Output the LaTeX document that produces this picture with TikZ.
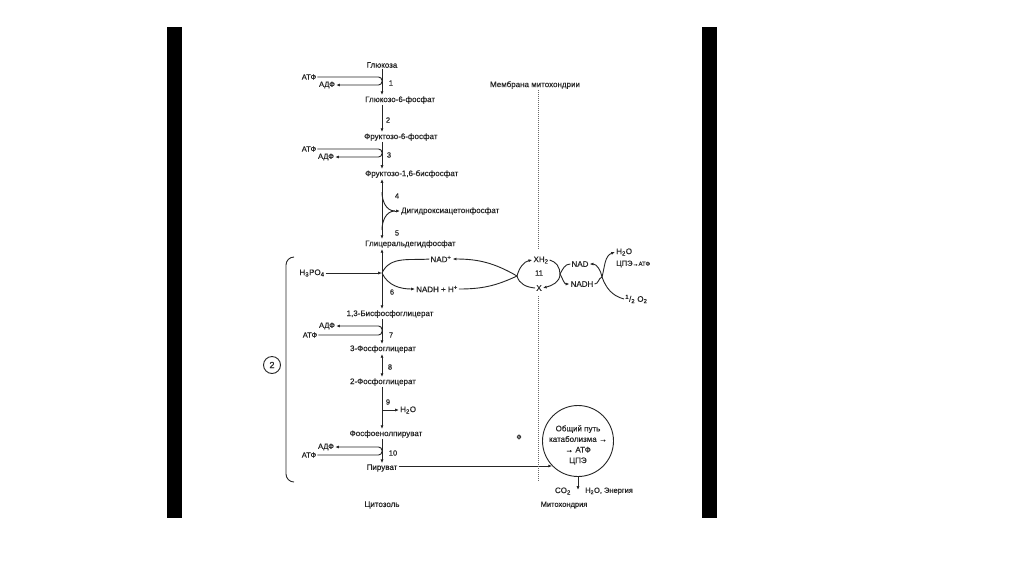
\documentclass[tikz,border=0pt]{standalone}
\usepackage{fontspec}
\setmainfont{Liberation Sans}[FakeBold=0.5]
\usetikzlibrary{arrows.meta}
\definecolor{ink}{HTML}{262626}
\begin{document}
\begin{tikzpicture}[x=1pt,y=-1pt,
 >={Latex[length=3.8pt,width=3pt]},
 lbl/.style={font=\fontsize{8}{9.5}\selectfont, inner sep=1pt, text=ink},
 sm/.style={font=\fontsize{7.5}{9}\selectfont, inner sep=1pt, text=ink},
 ln/.style={draw=ink, line width=0.9pt},
 dots/.style={draw=ink!70, line width=0.7pt, dash pattern=on 0.9pt off 1.1pt}]
\fill[white] (0,0) rectangle (1024,574);
\useasboundingbox (0,0) rectangle (1024,574);
\fill[black] (167,27) rectangle (182,518);
\fill[black] (702,27) rectangle (717,518);
\coordinate (col) at (382,0);
\coordinate (memx) at (538,0);
% main column
\node[lbl] (glc) at (382,65) {Глюкоза};
\node[lbl,anchor=west] (g6p) at (364,100) {Глюкозо-6-фосфат};
\node[lbl,anchor=west] (f6p) at (363,137) {Фруктозо-6-фосфат};
\node[lbl,anchor=west] (f16) at (364,174) {Фруктозо-1,6-бисфосфат};
\node[lbl,anchor=west] (gap) at (364,244) {Глицеральдегидфосфат};
\node[lbl] (bpg) at (390,314) {1,3-Бисфосфоглицерат};
\node[lbl] (pg3) at (383,349) {3-Фосфоглицерат};
\node[lbl] (pg2) at (383,382) {2-Фосфоглицерат};
\node[lbl] (pep) at (386,434) {Фосфоенолпируват};
\node[lbl] (pyr) at (382,468) {Пируват};
\node[lbl] (cyt) at (382,505) {Цитозоль};
\draw[->,ln] (glc.south -| col) -- (g6p.north -| col);
\draw[->,ln] (g6p.south -| col) -- (f6p.north -| col);
\draw[->,ln] (f6p.south -| col) -- (f16.north -| col);
\draw[<->,ln] (f16.south -| col) -- (gap.north -| col);
\draw[<->,ln] (gap.south -| col) -- (bpg.north -| col);
\draw[->,ln] (bpg.south -| col) -- (pg3.north -| col);
\draw[<->,ln] (pg3.south -| col) -- (pg2.north -| col);
\draw[->,ln] (pg2.south -| col) -- (pep.north -| col);
\draw[->,ln] (pep.south -| col) -- (pyr.north -| col);
% numbers
\node[sm] (n1) at (391,83) {1};
\node[sm] (n2) at (388,120) {2};
\node[sm] (n3) at (389,155) {3};
\node[sm] (n4) at (397,196) {4};
\node[sm] (n5) at (397,233) {5};
\node[sm] (n6) at (392,292) {6};
\node[sm] (n7) at (391,335) {7};
\node[sm] (n8) at (390,367) {8};
\node[sm] (n9) at (388,402) {9};
\node[sm] (n10) at (393,453) {10};
% ATP / ADP loops
\node[sm] (atp1) at (309,77) {АТФ};
\node[sm] (adp1) at (327,85) {АДФ};
\node[sm] (atp3) at (309,149) {АТФ};
\node[sm] (adp3) at (326,157) {АДФ};
\node[sm] (adp7) at (327,326) {АДФ};
\node[sm] (atp7) at (310,335) {АТФ};
\node[sm] (adp10) at (326,447) {АДФ};
\node[sm] (atp10) at (309,455) {АТФ};
\draw[->,ln,rounded corners=3.5pt] (atp1.east) -- (atp1.east -| col) |- (adp1.east);
\draw[->,ln,rounded corners=3.5pt] (atp3.east) -- (atp3.east -| col) |- (adp3.east);
\draw[->,ln,rounded corners=3.5pt] (atp7.east) -- (atp7.east -| col) |- (adp7.east);
\draw[->,ln,rounded corners=3.5pt] (atp10.east) -- (atp10.east -| col) |- (adp10.east);
% reaction 4
\coordinate (k4) at (395,211);
\coordinate (k4a) at (382,192);
\coordinate (k4b) at (382,230);
\node[lbl,anchor=west] (dhap) at (400,211) {Дигидроксиацетонфосфат};
\draw[ln] (k4a) to[out=-90,in=180] (k4);
\draw[ln] (k4b) to[out=90,in=180] (k4);
\draw[->,ln] (k4) -- (dhap.west);
% reaction 6 and shuttle
\node[lbl] (h3po4) at (312,273) {H\textsubscript{3}PO\textsubscript{4}};
\coordinate (j1) at (382,273);
\draw[->,ln] (h3po4.east) -- (j1);
\node[lbl] (nadp) at (441,259) {NAD\textsuperscript{+}};
\node[lbl] (nadh) at (437,289) {NADH + H\textsuperscript{+}};
\draw[ln] (j1) to[out=65,in=185] (nadp.west);
\draw[->,ln] (j1) to[out=-65,in=180] (nadh.west);
\coordinate (j2) at (517,276);
\node[lbl] (xh2) at (541,260) {XH\textsubscript{2}};
\node[sm] (n11) at (539,273) {11};
\node[lbl] (xx) at (539,288) {X};
\draw[->,ln] (j2) to[out=150,in=0] (nadp.east);
\draw[ln] (nadh.east) to[out=0,in=205] (j2);
\draw[->,ln] (j2) to[out=75,in=190] (xh2.west);
\draw[ln] (j2) to[out=-75,in=175] (xx.west);
\coordinate (j3) at (560,274);
\node[lbl] (nad) at (580,264) {NAD};
\node[lbl] (nadh2) at (582,284) {NADH};
\draw[->,ln] (xh2.east) to[out=-15,in=90] (j3) to[out=-90,in=15] (xx.east);
\draw[ln] (nad.west) to[out=180,in=60] (j3);
\draw[->,ln] (j3) to[out=-60,in=180] (nadh2.west);
\coordinate (j4) at (602,277);
\node[lbl,anchor=west] (h2o) at (615,252) {H\textsubscript{2}O};
\node[sm,anchor=west] (cpe) at (615,264) {ЦПЭ{\fontsize{6}{7}\selectfont→АТФ}};
\node[lbl,anchor=west] (o2) at (624,299) {\textsuperscript{1}/\textsubscript{2} O\textsubscript{2}};
\draw[->,ln] (j4) to[out=100,in=0] (nad.east);
\draw[ln] (nadh2.east) to[out=0,in=200] (j4);
\draw[->,ln] (j4) to[out=75,in=200] (h2o.west);
\draw[ln] (o2.west) to[out=165,in=-70] (j4);
% reaction 9
\coordinate (b9) at (382,410);
\node[lbl,anchor=west] (h2o9) at (399,410) {H\textsubscript{2}O};
\draw[->,ln] (b9) -- (h2o9.west);
% mitochondrion
\node[draw=ink, circle, line width=0.9pt, minimum size=71pt, inner sep=0pt] (circ) at (578,441) {};
\node[lbl, align=center, font=\fontsize{8}{10.6}\selectfont] (ctext) at (578,445) {Общий путь\\катаболизма →\\→ АТФ\\ЦПЭ};
\draw[->,ln] (circ.224 -| pyr.north east) -- (circ.224);
\coordinate (prod) at (578,490);
\draw[->,ln] (circ.south) -- (prod);
\node[lbl,anchor=east] (co2) at (572,491) {CO\textsubscript{2}};
\node[sm,anchor=west] (enr) at (584,491) {H\textsubscript{2}O, Энергия};
\node[sm] (mito) at (564,505) {Митохондрия};
\node[font=\fontsize{6.5}{7}\selectfont, text=ink, inner sep=0pt] (phi) at (519,437) {Ф};
% membrane
\node[lbl] (mem) at (535,85) {Мембрана митохондрии};
\draw[dots] (mem.south -| memx) -- (538,248);
\draw[dots] (538,296) -- (538,481);
% bracket
\draw[ln] (294,257) to[out=180,in=90] (286,265) -- (286,474) to[out=-90,in=180] (294,482);
\node[draw=ink, circle, line width=0.9pt, minimum size=17pt, inner sep=0pt, font=\fontsize{9}{10}\selectfont, text=ink] (two) at (272,365) {2};
\end{tikzpicture}
\end{document}
